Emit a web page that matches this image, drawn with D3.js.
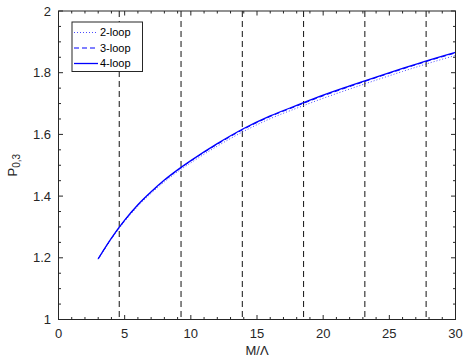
<!DOCTYPE html>
<html>
<head>
<meta charset="utf-8">
<script src="https://cdn.jsdelivr.net/npm/d3@7"></script>
<style>
  body { margin: 0; background: #fff; }
  svg { display: block; font-family: "Liberation Sans", Arial, sans-serif; }
</style>
</head>
<body>
<svg id="chart" width="464" height="358"></svg>
<script>
// data
const xs = [3, 4, 5, 6, 7, 8, 9, 10, 12, 14, 16, 18, 20, 22, 24, 26, 28, 30]
const loop4 = [1.197, 1.264, 1.322, 1.372, 1.414, 1.452, 1.485, 1.515, 1.570, 1.619, 1.660, 1.694, 1.727, 1.757, 1.786, 1.814, 1.841, 1.866]
const loop3 = [1.197, 1.263, 1.321, 1.371, 1.413, 1.451, 1.484, 1.514, 1.568, 1.617, 1.658, 1.692, 1.725, 1.755, 1.784, 1.812, 1.839, 1.864]
const loop2 = [1.195, 1.261, 1.318, 1.367, 1.409, 1.446, 1.479, 1.508, 1.562, 1.610, 1.651, 1.685, 1.717, 1.747, 1.776, 1.804, 1.831, 1.856]
const vlines = [4.59, 9.26, 13.89, 18.52, 23.15, 27.78]
const xTicks = [0, 5, 10, 15, 20, 25, 30]
const yTicks = [1, 1.2, 1.4, 1.6, 1.8, 2]
const seriesNames = ['2-loop', '3-loop', '4-loop']

const axisColor = '#262626'
const blue = '#0000ff'

let svg = d3.select('#chart')

// plot box
let pLeft = 58.5, pRight = 455.5, pTop = 11, pBottom = 319.5

let x = d3.scaleLinear().domain([0, 30]).range([pLeft, pRight])
let y = d3.scaleLinear().domain([1, 2]).range([pBottom, pTop])

// dashed verticals
svg.selectAll('.vline').data(vlines).enter().append('line')
   .attr('x1', d => x(d)).attr('x2', d => x(d))
   .attr('y1', pTop).attr('y2', pBottom)
   .attr('stroke', '#111').attr('stroke-width', 1)
   .attr('stroke-dasharray', '6,4')

// curves
let line = d3.line().x((d, i) => x(xs[i])).y(d => y(d)).curve(d3.curveMonotoneX)
let series = [
  {vals: loop2, dash: '1,2', width: 1, color: '#4a4aff'},
  {vals: loop3, dash: '5,3', width: 1, color: blue},
  {vals: loop4, dash: null, width: 1.3, color: blue}
]
series.forEach(s => {
  svg.append('path')
     .attr('d', line(s.vals))
     .attr('fill', 'none')
     .attr('stroke', s.color)
     .attr('stroke-width', s.width)
     .attr('stroke-dasharray', s.dash)
})

// box
svg.append('rect')
   .attr('x', pLeft).attr('y', pTop)
   .attr('width', pRight - pLeft).attr('height', pBottom - pTop)
   .attr('fill', 'none').attr('stroke', axisColor).attr('stroke-width', 1)

// ticks (inside, on all four sides)
let g = svg.append('g').attr('stroke', axisColor).attr('stroke-width', 1)
let xMinor = d3.range(0, 31, 1)
let yMinor = d3.range(0, 21).map(i => 1 + i * 0.05)
xMinor.forEach(v => {
  let len = xTicks.includes(v) ? 4.5 : 2.5
  g.append('line').attr('x1', x(v)).attr('x2', x(v)).attr('y1', pBottom).attr('y2', pBottom - len)
  g.append('line').attr('x1', x(v)).attr('x2', x(v)).attr('y1', pTop).attr('y2', pTop + len)
})
yMinor.forEach(v => {
  let major = yTicks.some(t => Math.abs(t - v) < 1e-6)
  let len = major ? 4.5 : 2.5
  g.append('line').attr('x1', pLeft).attr('x2', pLeft + len).attr('y1', y(v)).attr('y2', y(v))
  g.append('line').attr('x1', pRight).attr('x2', pRight - len).attr('y1', y(v)).attr('y2', y(v))
})

// tick labels
svg.selectAll('.xl').data(xTicks).enter().append('text')
   .attr('x', d => x(d)).attr('y', 338)
   .attr('text-anchor', 'middle').attr('fill', axisColor)
   .style('font-size', '13px').text(d => d)
svg.selectAll('.yl').data(yTicks).enter().append('text')
   .attr('x', 51).attr('y', d => y(d)).attr('dy', '0.35em')
   .attr('text-anchor', 'end').attr('fill', axisColor)
   .style('font-size', '13px').text(d => d3.format('~g')(d))

// axis labels
svg.append('text')
   .attr('x', (pLeft + pRight) / 2).attr('y', 355)
   .attr('text-anchor', 'middle').attr('fill', axisColor)
   .style('font-size', '13px').text('M/Λ')

let yl = svg.append('text')
   .attr('transform', `translate(17,${(pTop + pBottom) / 2}) rotate(-90)`)
   .attr('text-anchor', 'middle').attr('fill', axisColor)
   .style('font-size', '13px')
yl.append('tspan').text('P')
yl.append('tspan').attr('dy', 3).style('font-size', '10px').text('0,3')

// legend
let lg = svg.append('g')
lg.append('rect')
  .attr('x', 72).attr('y', 22).attr('width', 70.5).attr('height', 49.5)
  .attr('fill', '#fff').attr('stroke', axisColor).attr('stroke-width', 1)
series.forEach((s, i) => {
  let ly = 32.5 + i * 15.5
  lg.append('line')
    .attr('x1', 74).attr('x2', 98).attr('y1', ly).attr('y2', ly)
    .attr('stroke', s.color).attr('stroke-width', s.width)
    .attr('stroke-dasharray', s.dash)
  lg.append('text')
    .attr('x', 100).attr('y', ly).attr('dy', '0.35em')
    .attr('fill', '#000').style('font-size', '11px')
    .text(seriesNames[i])
})
</script>
</body>
</html>
